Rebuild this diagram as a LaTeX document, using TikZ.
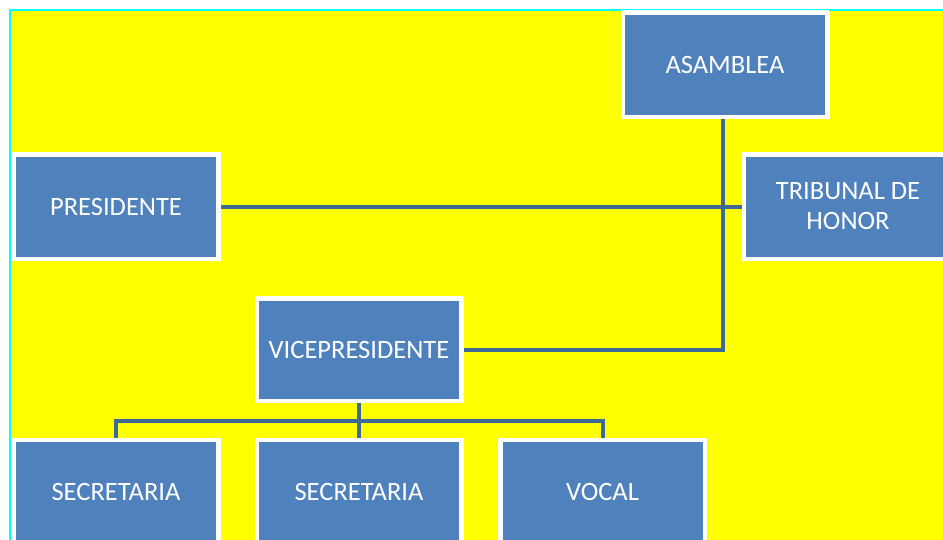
\documentclass[tikz,border=0pt]{standalone}
\usepackage{fontspec}
\setmainfont{Carlito}
\definecolor{boxblue}{RGB}{79,129,189}
\definecolor{linkblue}{RGB}{62,104,150}
\definecolor{bgyellow}{RGB}{255,255,0}
\definecolor{edgecyan}{RGB}{0,255,255}
\tikzset{
  orgbox/.style={draw=white, line width=3pt, fill=boxblue, text=white,
    minimum width=#1, minimum height=103pt, inner sep=2pt, align=center,
    font=\fontsize{26.5}{30}\selectfont},
  orgbox/.default=203pt,
  link/.style={draw=linkblue, line width=4pt}
}
\begin{document}
\begin{tikzpicture}[x=1pt,y=-1pt]
\useasboundingbox (0,0) rectangle (943,539);
\clip (0,0) rectangle (943,539);
\fill[white] (0,0) rectangle (943,539);
\fill[bgyellow] (10,10) rectangle (950,545);
\draw[edgecyan, line width=2pt] (10,545) -- (10,10) -- (950,10);
\coordinate (bus) at (359,421);
\node[orgbox] (asamblea) at (725,64.5) {ASAMBLEA};
\node[orgbox] (presidente) at (116,206.5) {PRESIDENTE};
\node[orgbox=207pt] (tribunal) at (848,206.5) {TRIBUNAL DE\\HONOR};
\node[orgbox, minimum height=101pt] (vice) at (359,349.5) {VICEPRESIDENTE};
\node[orgbox] (sec1) at (116,492) {SECRETARIA};
\node[orgbox] (sec2) at (359,492) {SECRETARIA};
\node[orgbox] (vocal) at (602.5,492) {VOCAL};
\draw[link] ([xshift=-2pt]asamblea.south) |- (vice.east);
\draw[link] (presidente.east) -- (tribunal.west);
\draw[link] (vice.south) -- (bus);
\draw[link] (sec1.north) |- (bus) -| (vocal.north);
\draw[link] (bus) -- (sec2.north);
\foreach \n in {asamblea,presidente,tribunal,vice,sec1,sec2,vocal}{
  \draw[white, line width=3pt] (\n.south west) rectangle (\n.north east);
}
\end{tikzpicture}
\end{document}
